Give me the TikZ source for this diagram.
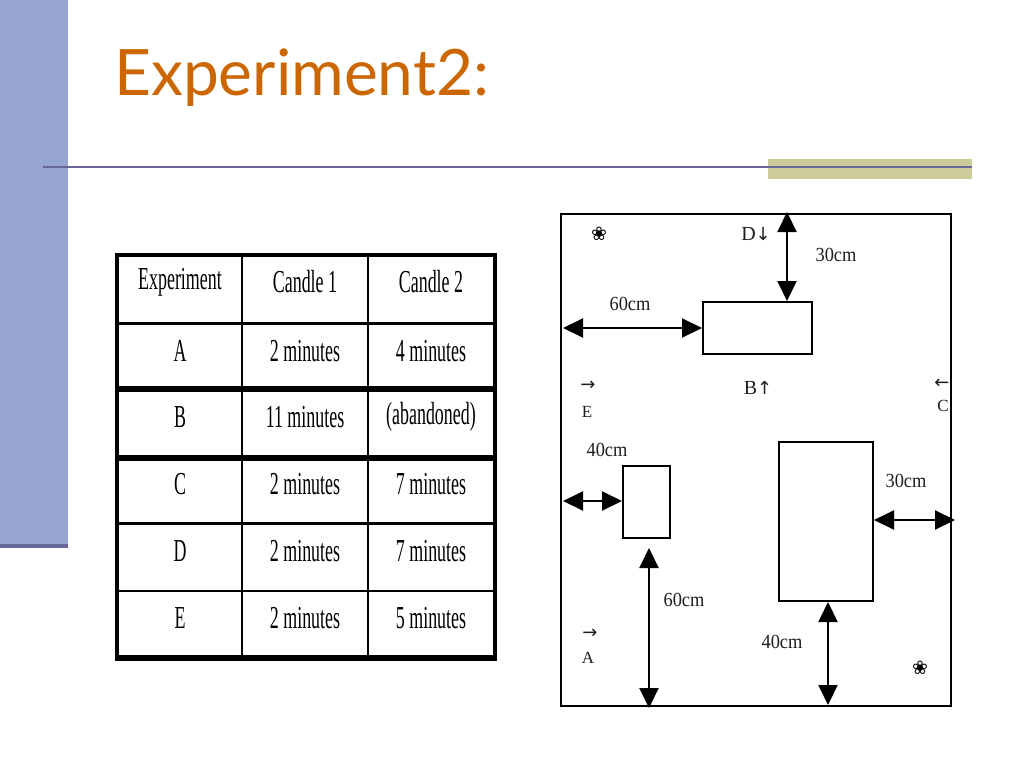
\documentclass[tikz,border=0pt]{standalone}
\usepackage{fontspec}
\setmainfont{Liberation Serif}
\newfontfamily\titlefont{Lato}
\newfontfamily\symfont{DejaVu Sans}
\usetikzlibrary{arrows.meta}
\definecolor{barblue}{RGB}{150,164,212}
\definecolor{linegray}{RGB}{102,102,153}
\definecolor{tan}{RGB}{204,204,153}
\definecolor{titleorange}{RGB}{204,102,0}
\definecolor{textgray}{RGB}{30,30,30}
\newcommand{\condensed}[1]{\scalebox{0.56}[1]{#1}}
\tikzset{
  cell/.style={inner sep=0pt, font=\fontsize{32}{36}\selectfont, text=black},
  lbl/.style={inner sep=0pt, font=\fontsize{20}{24}\selectfont, text=textgray},
  box/.style={draw, line width=2pt, inner sep=0pt},
  dim/.style={line width=2pt, {Triangle[length=20pt,width=19pt]}-{Triangle[length=20pt,width=19pt]}},
  thinrule/.style={line width=2.5pt},
  thickrule/.style={line width=6pt}
}
\begin{document}
\begin{tikzpicture}[x=1pt,y=-1pt]
\useasboundingbox (0,0) rectangle (1024,768);
\fill[white] (0,0) rectangle (1024,768);
% slide decoration
\fill[barblue] (0,0) rectangle (68,548);
\fill[linegray] (0,544) rectangle (68,548);
\fill[tan] (768,159) rectangle (972,179);
\draw[linegray, line width=2pt] (43,167) -- (972,167);
\node[anchor=base west, inner sep=0pt, text=titleorange, font=\titlefont\fontsize{64}{70}\selectfont] (title) at (114,95) {Experiment2:};

% table grid
\draw[line width=3.5pt] (117,255) rectangle (495,658);
\draw[thinrule] (242,255) -- (242,658);
\draw[thinrule] (368,255) -- (368,658);
\draw[thinrule] (117,323.5) -- (495,323.5);
\draw[thickrule] (117,388.5) -- (495,388.5);
\draw[thickrule] (117,457.5) -- (495,457.5);
\draw[thinrule] (117,523.5) -- (495,523.5);
\draw[thinrule] (117,591) -- (495,591);
\draw[thickrule] (115,658) -- (497,658);

% table text
\node[cell] (h1) at (180,282) {\condensed{Experiment}};
\node[cell] (h2) at (305,282) {\condensed{Candle 1}};
\node[cell] (h3) at (431,282) {\condensed{Candle 2}};
\node[cell] (a1) at (180,351) {\condensed{A}};
\node[cell] (a2) at (305,351) {\condensed{2 minutes}};
\node[cell] (a3) at (431,351) {\condensed{4 minutes}};
\node[cell] (b1) at (180,417) {\condensed{B}};
\node[cell] (b2) at (305,417) {\condensed{11 minutes}};
\node[cell] (b3) at (431,417) {\condensed{(abandoned)}};
\node[cell] (c1) at (180,484) {\condensed{C}};
\node[cell] (c2) at (305,484) {\condensed{2 minutes}};
\node[cell] (c3) at (431,484) {\condensed{7 minutes}};
\node[cell] (d1) at (180,551) {\condensed{D}};
\node[cell] (d2) at (305,551) {\condensed{2 minutes}};
\node[cell] (d3) at (431,551) {\condensed{7 minutes}};
\node[cell] (e1) at (180,618) {\condensed{E}};
\node[cell] (e2) at (305,618) {\condensed{2 minutes}};
\node[cell] (e3) at (431,618) {\condensed{5 minutes}};

% room plan
\node[box, minimum width=390pt, minimum height=492pt] (frame) at (756,460) {};
\node[box, minimum width=109pt, minimum height=52pt] (r1) at (757.5,328) {};
\node[box, minimum width=47pt, minimum height=72pt] (r2) at (646.5,502) {};
\node[box, minimum width=94pt, minimum height=159pt] (r3) at (826,521.5) {};

\coordinate (ptop) at (787,212);
\coordinate (pleft1) at (563,328);
\coordinate (pleft2) at (563,501);
\coordinate (pright) at (955,520);
\coordinate (pbot1) at (649,708);
\coordinate (pbot2) at (828,705);
\coordinate (r2b) at (649,548);

\draw[dim] (ptop) -- (ptop |- r1.north);
\draw[dim] (pleft1) -- (pleft1 -| r1.west);
\draw[dim] (pleft2) -- (pleft2 -| r2.west);
\draw[dim] (r3.east |- pright) -- (pright);
\draw[dim] (r2b) -- (pbot1);
\draw[dim] (pbot2 |- r3.south) -- (pbot2);

\node[lbl] (l30a) at (836,255) {\scalebox{0.92}[1]{30cm}};
\node[lbl] (l60a) at (630,304) {\scalebox{0.92}[1]{60cm}};
\node[lbl] (l40a) at (607,450) {\scalebox{0.92}[1]{40cm}};
\node[lbl] (l30b) at (906,481) {\scalebox{0.92}[1]{30cm}};
\node[lbl] (l60b) at (684,600) {\scalebox{0.92}[1]{60cm}};
\node[lbl] (l40b) at (782,642) {\scalebox{0.92}[1]{40cm}};

\node[lbl] (dlab) at (756,234) {D\symfont\fontsize{18}{20}\selectfont↓};
\node[lbl] (blab) at (758,388) {B\symfont\fontsize{18}{20}\selectfont↑};
\node[lbl, font=\symfont\fontsize{18}{20}\selectfont] (earr) at (588,386) {→};
\node[lbl, font=\fontsize{17}{19}\selectfont] (elab) at (587,412) {E};
\node[lbl, font=\symfont\fontsize{18}{20}\selectfont] (carr) at (942,384) {←};
\node[lbl, font=\fontsize{17}{19}\selectfont] (clab) at (943,406) {C};
\node[lbl, font=\symfont\fontsize{18}{20}\selectfont] (aarr) at (590,634) {→};
\node[lbl, font=\fontsize{17}{19}\selectfont] (alab) at (588,658) {A};
\node[lbl, font=\symfont\fontsize{19}{21}\selectfont, text=black] (s1) at (599,234) {❀};
\node[lbl, font=\symfont\fontsize{19}{21}\selectfont, text=black] (s2) at (920,668) {❀};
\end{tikzpicture}
\end{document}
